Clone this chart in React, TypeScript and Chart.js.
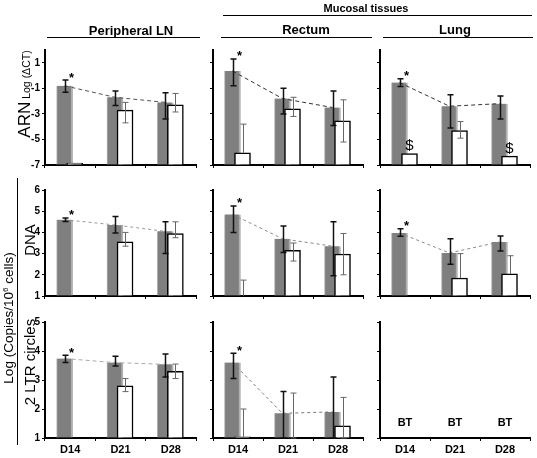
import React, { useEffect, useRef } from 'react';
import { Chart, registerables } from 'chart.js';
Chart.register(...registerables);

const W = 537;
const H = 458;
const FONT = '"Liberation Sans", Arial, Helvetica, sans-serif';

const DAYS = ['D14', 'D21', 'D28'];
const ARN_TICKS = [-7, -5, -3, -1, 1];
const DNA_TICKS = [1, 2, 3, 4, 5, 6];
const LTR_TICKS = [1, 2, 3, 4, 5];

type Num = number | null;

// ---- ARN (Log ΔCT) ----
const PLN_ARN_GRAY: Num[] = [-0.8, -1.7, -2.1];
const PLN_ARN_GRAY_LO: Num[] = [-1.3, -2.35, -3.4];
const PLN_ARN_GRAY_HI: Num[] = [-0.35, -1.2, -1.35];
const PLN_ARN_WHITE: Num[] = [-6.85, -2.7, -2.3];
const PLN_ARN_WHITE_LO: Num[] = [null, -3.7, -2.85];
const PLN_ARN_WHITE_HI: Num[] = [null, -2.1, -1.4];

const REC_ARN_GRAY: Num[] = [0.35, -1.8, -2.5];
const REC_ARN_GRAY_LO: Num[] = [-0.8, -3.0, -3.9];
const REC_ARN_GRAY_HI: Num[] = [1.3, -1.0, -1.2];
const REC_ARN_WHITE: Num[] = [-6.05, -2.6, -3.55];
const REC_ARN_WHITE_LO: Num[] = [null, -3.2, -5.2];
const REC_ARN_WHITE_HI: Num[] = [-3.8, -1.7, -1.9];

const LUNG_ARN_GRAY: Num[] = [-0.55, -2.4, -2.2];
const LUNG_ARN_GRAY_LO: Num[] = [-0.85, -4.1, -3.4];
const LUNG_ARN_GRAY_HI: Num[] = [-0.25, -1.5, -1.6];
const LUNG_ARN_WHITE: Num[] = [-6.1, -4.3, -6.3];
const LUNG_ARN_WHITE_LO: Num[] = [null, -4.9, null];
const LUNG_ARN_WHITE_HI: Num[] = [null, -3.6, null];

// ---- DNA ----
const PLN_DNA_GRAY: Num[] = [4.6, 4.35, 4.05];
const PLN_DNA_GRAY_LO: Num[] = [4.52, 3.97, 3.0];
const PLN_DNA_GRAY_HI: Num[] = [4.68, 4.75, 4.5];
const PLN_DNA_WHITE: Num[] = [null, 3.55, 3.95];
const PLN_DNA_WHITE_LO: Num[] = [null, 3.35, 3.75];
const PLN_DNA_WHITE_HI: Num[] = [null, 4.0, 4.5];

const REC_DNA_GRAY: Num[] = [4.85, 3.7, 3.35];
const REC_DNA_GRAY_LO: Num[] = [4.0, 3.05, 1.95];
const REC_DNA_GRAY_HI: Num[] = [5.25, 4.3, 4.5];
const REC_DNA_WHITE: Num[] = [null, 3.15, 2.98];
const REC_DNA_WHITE_LO: Num[] = [null, 2.65, 2.0];
const REC_DNA_WHITE_HI: Num[] = [1.75, 3.5, 3.95];

const LUNG_DNA_GRAY: Num[] = [3.97, 3.03, 3.55];
const LUNG_DNA_GRAY_LO: Num[] = [3.82, 2.5, 3.12];
const LUNG_DNA_GRAY_HI: Num[] = [4.17, 3.7, 3.83];
const LUNG_DNA_WHITE: Num[] = [null, 1.85, 2.04];
const LUNG_DNA_WHITE_LO: Num[] = [null, null, null];
const LUNG_DNA_WHITE_HI: Num[] = [null, 3.0, 2.9];

// ---- 2 LTR circles ----
const PLN_LTR_GRAY: Num[] = [3.74, 3.6, 3.54];
const PLN_LTR_GRAY_LO: Num[] = [3.6, 3.48, 3.1];
const PLN_LTR_GRAY_HI: Num[] = [3.85, 3.82, 3.9];
const PLN_LTR_WHITE: Num[] = [null, 2.8, 3.3];
const PLN_LTR_WHITE_LO: Num[] = [null, 2.6, 3.05];
const PLN_LTR_WHITE_HI: Num[] = [null, 3.05, 3.55];

const REC_LTR_GRAY: Num[] = [3.6, 1.85, 1.9];
const REC_LTR_GRAY_LO: Num[] = [3.05, 1.0, 1.0];
const REC_LTR_GRAY_HI: Num[] = [3.92, 2.6, 3.1];
const REC_LTR_WHITE: Num[] = [1.04, null, 1.42];
const REC_LTR_WHITE_LO: Num[] = [null, 1.0, 1.0];
const REC_LTR_WHITE_HI: Num[] = [2.0, 2.55, 2.4];

const LUNG_LTR_GRAY: Num[] = [null, null, null];
const LUNG_LTR_WHITE: Num[] = [null, null, null];

const NONE3: Num[] = [null, null, null];
const STAR_D14 = ['*', '', ''];
const NO_NOTES = ['', '', ''];
const LUNG_ARN_WHITE_NOTES = ['$', '', '$'];
const LUNG_LTR_CAT_NOTES = ['BT', 'BT', 'BT'];

// layout
const COLS = [
  { x0: 45, x1: 196, axw: 24 },
  { x0: 213, x1: 363, axw: 8 },
  { x0: 380, x1: 530, axw: 8 },
];
const ROWS = [
  { y0: 50, y1: 165, min: -7, max: 2, ticks: ARN_TICKS },
  { y0: 190, y1: 296, min: 1, max: 6, ticks: DNA_TICKS },
  { y0: 322, y1: 438, min: 1, max: 5, ticks: LTR_TICKS },
];
const GRAY_OFF = -0.11;
const WHITE_OFF = 0.09;

interface Panel {
  col: number;
  row: number;
  gray: Num[]; grayLo: Num[]; grayHi: Num[];
  white: Num[]; whiteLo: Num[]; whiteHi: Num[];
  lineColor: string; dash: number[];
  grayNotes: string[]; whiteNotes: string[]; catNotes: string[];
}

const PANELS: Panel[] = [
  { col: 0, row: 0, gray: PLN_ARN_GRAY, grayLo: PLN_ARN_GRAY_LO, grayHi: PLN_ARN_GRAY_HI, white: PLN_ARN_WHITE, whiteLo: PLN_ARN_WHITE_LO, whiteHi: PLN_ARN_WHITE_HI, lineColor: '#555', dash: [4, 3], grayNotes: STAR_D14, whiteNotes: NO_NOTES, catNotes: NO_NOTES },
  { col: 1, row: 0, gray: REC_ARN_GRAY, grayLo: REC_ARN_GRAY_LO, grayHi: REC_ARN_GRAY_HI, white: REC_ARN_WHITE, whiteLo: REC_ARN_WHITE_LO, whiteHi: REC_ARN_WHITE_HI, lineColor: '#333', dash: [4, 3], grayNotes: STAR_D14, whiteNotes: NO_NOTES, catNotes: NO_NOTES },
  { col: 2, row: 0, gray: LUNG_ARN_GRAY, grayLo: LUNG_ARN_GRAY_LO, grayHi: LUNG_ARN_GRAY_HI, white: LUNG_ARN_WHITE, whiteLo: LUNG_ARN_WHITE_LO, whiteHi: LUNG_ARN_WHITE_HI, lineColor: '#333', dash: [4, 3], grayNotes: STAR_D14, whiteNotes: LUNG_ARN_WHITE_NOTES, catNotes: NO_NOTES },
  { col: 0, row: 1, gray: PLN_DNA_GRAY, grayLo: PLN_DNA_GRAY_LO, grayHi: PLN_DNA_GRAY_HI, white: PLN_DNA_WHITE, whiteLo: PLN_DNA_WHITE_LO, whiteHi: PLN_DNA_WHITE_HI, lineColor: '#999', dash: [3, 3], grayNotes: STAR_D14, whiteNotes: NO_NOTES, catNotes: NO_NOTES },
  { col: 1, row: 1, gray: REC_DNA_GRAY, grayLo: REC_DNA_GRAY_LO, grayHi: REC_DNA_GRAY_HI, white: REC_DNA_WHITE, whiteLo: REC_DNA_WHITE_LO, whiteHi: REC_DNA_WHITE_HI, lineColor: '#888', dash: [3, 3], grayNotes: STAR_D14, whiteNotes: NO_NOTES, catNotes: NO_NOTES },
  { col: 2, row: 1, gray: LUNG_DNA_GRAY, grayLo: LUNG_DNA_GRAY_LO, grayHi: LUNG_DNA_GRAY_HI, white: LUNG_DNA_WHITE, whiteLo: LUNG_DNA_WHITE_LO, whiteHi: LUNG_DNA_WHITE_HI, lineColor: '#888', dash: [3, 3], grayNotes: STAR_D14, whiteNotes: NO_NOTES, catNotes: NO_NOTES },
  { col: 0, row: 2, gray: PLN_LTR_GRAY, grayLo: PLN_LTR_GRAY_LO, grayHi: PLN_LTR_GRAY_HI, white: PLN_LTR_WHITE, whiteLo: PLN_LTR_WHITE_LO, whiteHi: PLN_LTR_WHITE_HI, lineColor: '#aaa', dash: [4, 3], grayNotes: STAR_D14, whiteNotes: NO_NOTES, catNotes: NO_NOTES },
  { col: 1, row: 2, gray: REC_LTR_GRAY, grayLo: REC_LTR_GRAY_LO, grayHi: REC_LTR_GRAY_HI, white: REC_LTR_WHITE, whiteLo: REC_LTR_WHITE_LO, whiteHi: REC_LTR_WHITE_HI, lineColor: '#777', dash: [3, 3], grayNotes: STAR_D14, whiteNotes: NO_NOTES, catNotes: NO_NOTES },
  { col: 2, row: 2, gray: LUNG_LTR_GRAY, grayLo: NONE3, grayHi: NONE3, white: LUNG_LTR_WHITE, whiteLo: NONE3, whiteHi: NONE3, lineColor: '#777', dash: [3, 3], grayNotes: NO_NOTES, whiteNotes: NO_NOTES, catNotes: LUNG_LTR_CAT_NOTES },
];

const CAP = 3;

function PanelChart({ p }: { p: Panel }) {
  const ref = useRef<HTMLCanvasElement>(null);
  useEffect(() => {
    const c = COLS[p.col];
    const r = ROWS[p.row];
    const xLabels = p.row === 2;
    const yLabels = p.col === 0;
    const XAXH = xLabels ? 20 : 6;
    const YAXW = c.axw;

    const pts = (arr: Num[], off: number) =>
      arr.map((v, i) => (v == null ? null : { x: i + off, y: v })).filter((d) => d !== null);

    const extras = {
      id: 'extras',
      afterDatasetsDraw(chart: any) {
        const ctx = chart.ctx as CanvasRenderingContext2D;
        const xs = chart.scales.xb;
        const ys = chart.scales.y;
        const xc = chart.scales.x;
        const drawErr = (vals: Num[], lo: Num[], hi: Num[], off: number, color: string, width: number) => {
          ctx.save();
          ctx.strokeStyle = color;
          ctx.lineWidth = width;
          for (let i = 0; i < vals.length; i++) {
            const l = lo[i];
            const h = hi[i];
            if (l == null && h == null) continue;
            const base = vals[i] ?? r.min;
            const a = l ?? base;
            const b = h ?? base;
            const x = Math.round(xs.getPixelForValue(i + off)) + 0.5;
            const ya = ys.getPixelForValue(a);
            const yb = ys.getPixelForValue(b);
            ctx.beginPath();
            ctx.moveTo(x, ya);
            ctx.lineTo(x, yb);
            if (l != null) { ctx.moveTo(x - CAP, ya); ctx.lineTo(x + CAP, ya); }
            if (h != null) { ctx.moveTo(x - CAP, yb); ctx.lineTo(x + CAP, yb); }
            ctx.stroke();
          }
          ctx.restore();
        };
        drawErr(p.gray, p.grayLo, p.grayHi, GRAY_OFF, '#111', 1.5);
        drawErr(p.white, p.whiteLo, p.whiteHi, WHITE_OFF, '#666', 1);

        ctx.save();
        ctx.fillStyle = '#000';
        ctx.textAlign = 'center';
        ctx.textBaseline = 'alphabetic';
        ctx.font = `bold 13px ${FONT}`;
        p.grayNotes.forEach((n, i) => {
          if (!n) return;
          const top = p.grayHi[i] ?? p.gray[i];
          if (top == null) return;
          ctx.fillText(n, xs.getPixelForValue(i + GRAY_OFF) + 7, ys.getPixelForValue(top) + 1.5);
        });
        ctx.font = `15px ${FONT}`;
        p.whiteNotes.forEach((n, i) => {
          if (!n) return;
          const v = p.white[i] ?? r.min;
          ctx.fillText(n, xs.getPixelForValue(i + WHITE_OFF), ys.getPixelForValue(v) - 3.5);
        });
        ctx.font = `bold 11px ${FONT}`;
        p.catNotes.forEach((n, i) => {
          if (!n) return;
          ctx.fillText(n, xc.getPixelForValue(i), chart.chartArea.bottom - 12);
        });
        ctx.restore();
      },
    };

    const axisGrid = {
      display: true,
      drawOnChartArea: false,
      drawTicks: true,
      tickLength: 3,
      color: '#000',
      lineWidth: 1,
    };

    const chart = new Chart(ref.current as HTMLCanvasElement, {
      type: 'bar',
      data: {
        labels: DAYS,
        datasets: [
          {
            type: 'line',
            data: pts(p.gray, GRAY_OFF) as any,
            xAxisID: 'xb',
            yAxisID: 'y',
            borderColor: p.lineColor,
            borderDash: p.dash,
            borderWidth: 1,
            pointRadius: 0,
            fill: false,
            tension: 0,
            order: 0,
          } as any,
          {
            type: 'bar',
            data: pts(p.white, WHITE_OFF) as any,
            base: r.min,
            xAxisID: 'xb',
            yAxisID: 'y',
            backgroundColor: '#ffffff',
            borderColor: '#000',
            borderWidth: 1.5,
            borderSkipped: 'bottom',
            barThickness: 16,
            grouped: false,
            order: 1,
          } as any,
          {
            type: 'bar',
            data: pts(p.gray, GRAY_OFF) as any,
            base: r.min,
            xAxisID: 'xb',
            yAxisID: 'y',
            backgroundColor: '#7f7f7f',
            borderColor: '#b0b0b0',
            borderWidth: { left: 1, right: 2, top: 0, bottom: 0 },
            borderSkipped: 'bottom',
            barThickness: 16,
            grouped: false,
            order: 2,
          } as any,
        ],
      },
      options: {
        responsive: false,
        animation: false,
        devicePixelRatio: 1,
        layout: {
          padding: {
            left: c.x0 - YAXW,
            right: W - c.x1,
            top: r.y0,
            bottom: H - r.y1 - XAXH,
          },
        },
        plugins: { legend: { display: false }, tooltip: { enabled: false } },
        scales: {
          x: {
            type: 'category',
            position: 'bottom',
            offset: true,
            afterFit: (s: any) => { s.height = XAXH; },
            grid: { ...axisGrid, offset: true },
            border: { display: true, color: '#000', width: 2 },
            ticks: {
              display: xLabels,
              color: '#000',
              font: { family: FONT, size: 11, weight: 'bold' },
              padding: 2,
              maxRotation: 0,
              autoSkip: false,
            },
          },
          xb: {
            type: 'linear',
            display: false,
            min: -0.5,
            max: 2.5,
            offset: false,
            ticks: { stepSize: 1 },
          },
          y: {
            type: 'linear',
            position: 'left',
            min: r.min,
            max: r.max,
            beginAtZero: false,
            afterBuildTicks: (s: any) => { s.ticks = r.ticks.map((v) => ({ value: v })); },
            afterFit: (s: any) => { s.width = YAXW; },
            grid: axisGrid,
            border: { display: true, color: '#000', width: 2 },
            ticks: {
              display: yLabels,
              color: '#000',
              font: { family: FONT, size: 10, weight: 'bold' },
              padding: 2,
            },
          },
        } as any,
      },
      plugins: [extras],
    });
    return () => chart.destroy();
  }, [p]);
  return (
    <canvas
      ref={ref}
      width={W}
      height={H}
      style={{ position: 'absolute', left: 0, top: 0, width: W, height: H }}
    />
  );
}

function Txt({ x, y, rot, style, children }: any) {
  return (
    <div
      style={{
        position: 'absolute',
        left: x,
        top: y,
        transform: `translate(-50%, -50%)${rot ? ' rotate(-90deg)' : ''}`,
        whiteSpace: 'nowrap',
        lineHeight: 1,
        color: '#000',
        fontFamily: FONT,
        ...style,
      }}
    >
      {children}
    </div>
  );
}

function HLine({ x0, x1, y }: { x0: number; x1: number; y: number }) {
  return <div style={{ position: 'absolute', left: x0, top: y, width: x1 - x0, height: 1, background: '#000' }} />;
}

export default function App() {
  useEffect(() => {
    document.body.style.margin = '0';
  }, []);
  return (
    <div style={{ position: 'absolute', left: 0, top: 0, width: W, height: H, background: '#fff', overflow: 'hidden' }}>
      {PANELS.map((p, k) => (
        <PanelChart key={k} p={p} />
      ))}
      <Txt x={366} y={8} style={{ fontSize: 11, fontWeight: 'bold' }}>Mucosal tissues</Txt>
      <HLine x0={223} x1={532} y={15} />
      <Txt x={131} y={30} style={{ fontSize: 13, fontWeight: 'bold' }}>Peripheral LN</Txt>
      <Txt x={306} y={29} style={{ fontSize: 13, fontWeight: 'bold' }}>Rectum</Txt>
      <Txt x={455} y={29} style={{ fontSize: 13, fontWeight: 'bold' }}>Lung</Txt>
      <HLine x0={47} x1={200} y={37} />
      <HLine x0={221} x1={372} y={37} />
      <HLine x0={383} x1={533} y={37} />
      <Txt x={24} y={94} rot style={{}}>
        <span style={{ fontSize: 17 }}>ARN</span>
        <span style={{ fontSize: 10.5 }}> Log (ΔCT)</span>
      </Txt>
      <Txt x={29} y={240} rot style={{ fontSize: 15 }}>DNA</Txt>
      <Txt x={29} y={362} rot style={{ fontSize: 15 }}>2 LTR circles</Txt>
      <Txt x={9} y={318} rot style={{ fontSize: 13.5 }}>
        Log (Copies/10<sup style={{ fontSize: 8, verticalAlign: 'super', lineHeight: 0 }}>6</sup> cells)
      </Txt>
      <div style={{ position: 'absolute', left: 17, top: 178, width: 1, height: 267, background: '#000' }} />
    </div>
  );
}
